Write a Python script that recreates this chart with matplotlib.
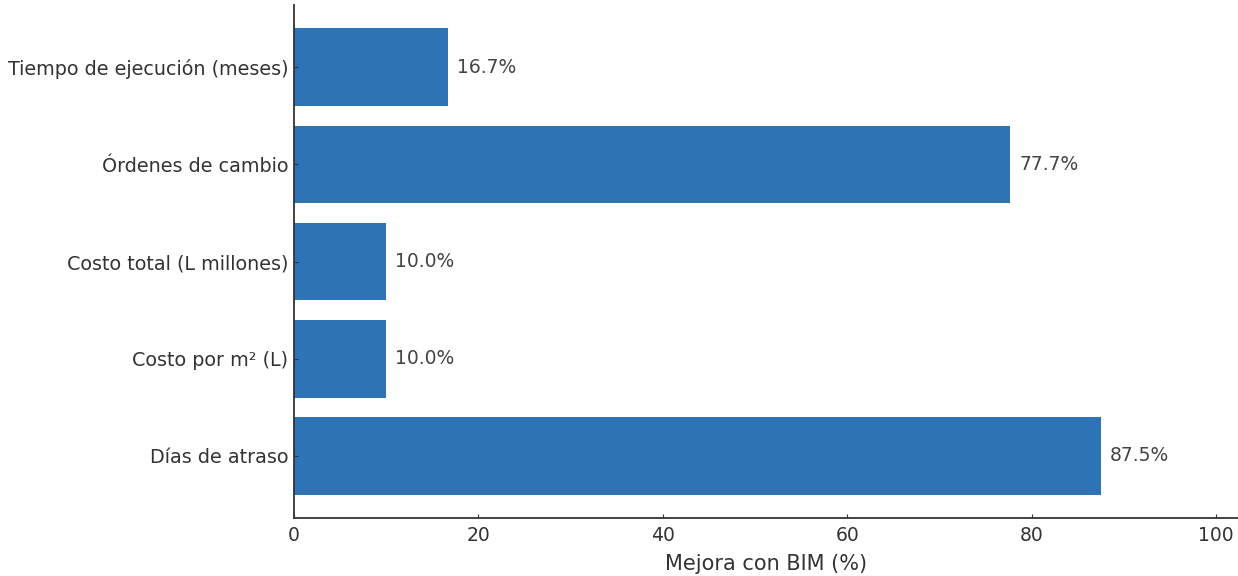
import matplotlib.pyplot as plt

categorias = ['Tiempo de ejecución (meses)', 'Órdenes de cambio', 'Costo total (L millones)',
              'Costo por m² (L)', 'Días de atraso']
mejora = [16.7, 77.7, 10.0, 10.0, 87.5]

fig = plt.figure(figsize=(12.38, 5.76), dpi=100)
ax = fig.add_axes([0.2375, 0.1007, 0.7625, 0.8903])

ax.barh(categorias, mejora, height=0.8, color='#2E73B4')
ax.invert_yaxis()

for i, v in enumerate(mejora):
    ax.text(v + 1.0, i, f'{v:.1f}%', va='center', ha='left', fontsize=13.5, color='#444444')

ax.set_xlim(0, 102.4)
ax.set_xticks([0, 20, 40, 60, 80, 100])
ax.set_xlabel('Mejora con BIM (%)', fontsize=15, color='#333333', labelpad=6)
ax.tick_params(axis='both', labelsize=13.8, colors='#333333', direction='in', length=3, pad=4)
ax.tick_params(axis='x', labelsize=13.5, pad=6)
for s in ['top', 'right']:
    ax.spines[s].set_visible(False)
for s in ['left', 'bottom']:
    ax.spines[s].set_color('#333333')
    ax.spines[s].set_linewidth(1.3)

fig.savefig('out.png', dpi=100)
